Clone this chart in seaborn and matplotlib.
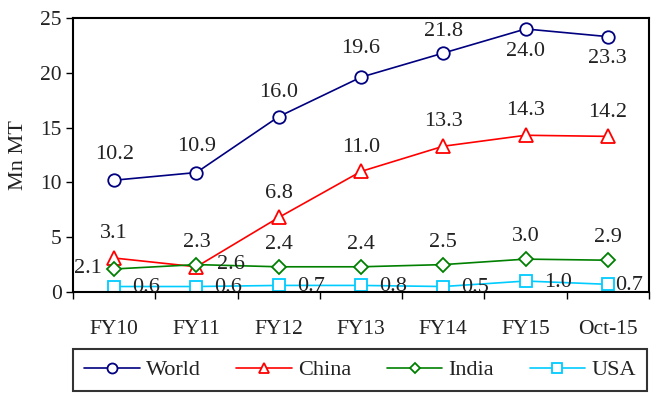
import numpy as np
import pandas as pd
import seaborn as sns
import matplotlib.pyplot as plt

# Datos (Mn MT)
periodos = ['FY10', 'FY11', 'FY12', 'FY13', 'FY14', 'FY15', 'Oct-15']
world = [10.2, 10.9, 16.0, 19.6, 21.8, 24.0, 23.3]
china = [3.1, 2.3, 6.8, 11.0, 13.3, 14.3, 14.2]
india = [2.1, 2.5, 2.3, 2.3, 2.5, 3.0, 2.9]
usa = [0.5, 0.5, 0.6, 0.6, 0.5, 1.0, 0.7]
etiq_india = [2.1, 2.6, 2.4, 2.4, 2.5, 3.0, 2.9]
etiq_usa = [0.6, 0.6, 0.7, 0.8, 0.5, 1.0, 0.7]

sns.set_theme(style="white")
plt.rcParams['font.family'] = ['Liberation Serif', 'DejaVu Serif']

FS = 16
FS_TICK = 15.5
GRIS = '#222222'

fig = plt.figure(figsize=(6.54, 3.96), dpi=100)
ax = fig.add_axes([73 / 654, 1 - 292 / 396, 576 / 654, 274 / 396])

x = np.arange(len(periodos))
series = [
    ('World', world, '#000080', 'o', 9),
    ('China', china, '#ff0000', '^', 9.5),
    ('India', india, '#008000', 'D', 7),
    ('USA', usa, '#00ccff', 's', 9),
]
for nombre, vals, col, mk, ms in series:
    df = pd.DataFrame({'x': x, 'y': vals})
    sns.lineplot(data=df, x='x', y='y', ax=ax, color=col, marker=mk,
                 markersize=ms, markerfacecolor='white', markeredgecolor=col,
                 markeredgewidth=1.3, linewidth=1.2, label=nombre)

txt = dict(fontsize=FS, color=GRIS, textcoords='offset points')
# World (desplazamiento vertical de cada etiqueta, en puntos)
dy_world = [18.5, 18.5, 17.5, 21, 15.5, -16.5, -16]
for i, v in enumerate(world):
    ax.annotate(f'{v:.1f}', (i, v), xytext=(0, dy_world[i]), ha='center', va='center', **txt)
# China
for i, v in enumerate(china):
    ax.annotate(f'{v:.1f}', (i, v), xytext=(0, 17.5), ha='center', va='center', **txt)
# India
for i, (v, e) in enumerate(zip(india, etiq_india)):
    if i == 0:
        ax.annotate(f'{e:.1f}', (i, v), xytext=(-9, 0), ha='right', va='center', **txt)
    elif i == 1:
        ax.annotate(f'{e:.1f}', (i, v), xytext=(15, 0), ha='left', va='center', **txt)
    else:
        ax.annotate(f'{e:.1f}', (i, v), xytext=(0, 16), ha='center', va='center', **txt)
# USA
for i, (v, e) in enumerate(zip(usa, etiq_usa)):
    dx = 13 if i < 6 else 5
    ax.annotate(f'{e:.1f}', (i, v), xytext=(dx, -1), ha='left', va='center', **txt)

ax.set_xlim(-0.5, len(periodos) - 0.5)
ax.set_ylim(0, 25)
ax.set_yticks([0, 5, 10, 15, 20, 25])
ax.set_xticks(np.arange(len(periodos) + 1) - 0.5)
ax.set_xticklabels([])
ax.set_xticks(x, minor=True)
ax.set_xticklabels(periodos, minor=True)
ax.tick_params(axis='x', which='major', direction='out', length=5, width=1, color='black', bottom=True)
ax.tick_params(axis='x', which='minor', length=0, pad=20, labelsize=FS_TICK, labelcolor=GRIS)
ax.tick_params(axis='y', direction='out', length=5, width=1, color='black', left=True,
               pad=3, labelsize=FS_TICK, labelcolor=GRIS)
ax.set_xlabel('')
ax.set_ylabel('Mn MT', fontsize=FS, color=GRIS, labelpad=9)
for s in ax.spines.values():
    s.set_color('black')
    s.set_linewidth(1.5)

handles, labels = ax.get_legend_handles_labels()
ax.get_legend().remove()
leg = fig.legend(handles, labels, ncol=4, loc='center', mode='expand',
                 bbox_to_anchor=(73 / 654, 1 - 391 / 396, 574 / 654, 42 / 396),
                 frameon=True, fancybox=False, edgecolor='black', fontsize=FS,
                 handlelength=2.5, handletextpad=0.27, borderaxespad=0,
                 borderpad=0.5, markerscale=0.8)
leg.get_frame().set_linewidth(1.5)
for t in leg.get_texts():
    t.set_color(GRIS)

plt.savefig('out.png', dpi=100)
